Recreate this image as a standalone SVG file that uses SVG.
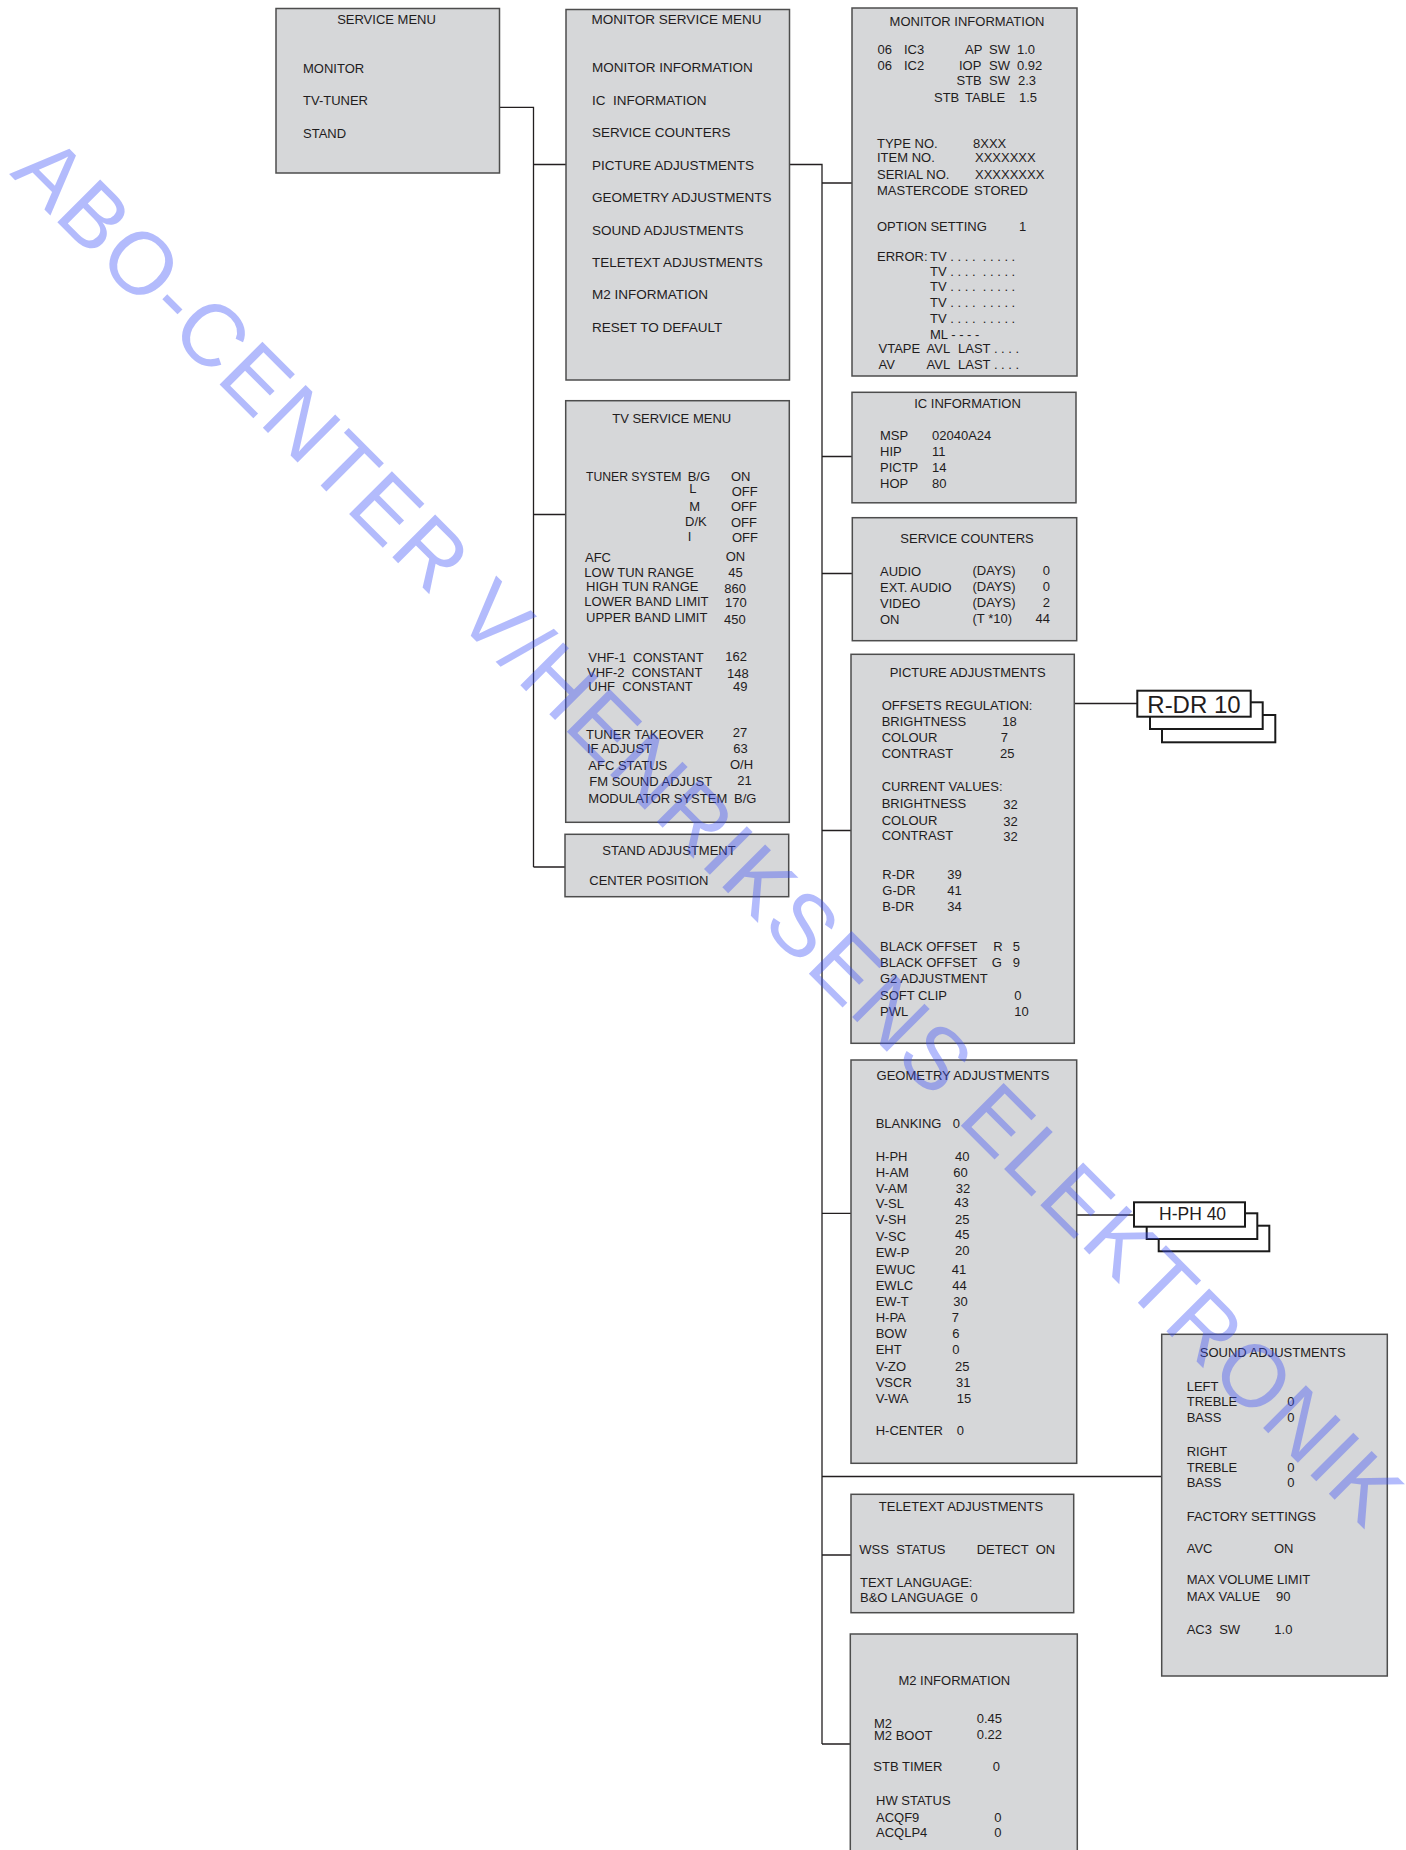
<svg xmlns="http://www.w3.org/2000/svg" width="1406" height="1850" viewBox="0 0 1406 1850">
<style>
.box{fill:#d6d7d9;stroke:#4d4d4d;stroke-width:1.5}
.stk{fill:#ffffff;stroke:#1a1a1a;stroke-width:2}
.ln{fill:none;stroke:#231f20;stroke-width:1.3}
text{font-family:"Liberation Sans",Arial,sans-serif;font-size:13px;fill:#1f1c1d;white-space:pre}
.c{text-anchor:middle}
.e{text-anchor:end}
.m{font-size:13.5px}
.n{font-size:12.2px}
.big{font-size:24px}
.mid{font-size:17.5px}
.wm{font-size:88px;fill:rgb(60,80,247);fill-opacity:0.39}
</style>
<rect width="1406" height="1850" fill="#ffffff"/>

<g id="connectors">
<path class="ln" d="M499.7,107.3 H533.5 V867 M533.5,164.5 H566 M533.5,514.5 H565.7 M533.5,867 H565"/>
<path class="ln" d="M789.3,164.5 H822 V1744 M822,183 H852 M822,456.5 H852 M822,573.5 H852 M822,830.5 H851 M822,1213.3 H851 M822,1476.5 H1161.7 M822,1555 H851 M822,1744 H850.3"/>
<path class="ln" d="M1075,703.5 H1137.5 M1076.7,1215 H1134"/>
</g>

<g id="service-menu">
<rect class="box" x="276" y="8.5" width="223.5" height="164.5"/>
<text class="c" x="386.5" y="23.5">SERVICE MENU</text>
<text x="303" y="72.5">MONITOR</text>
<text x="303" y="104.5">TV-TUNER</text>
<text x="303" y="137.5">STAND</text>
</g>

<g id="monitor-service-menu">
<rect class="box" x="566" y="9.5" width="223.5" height="370.5"/>
<text class="c m" x="676.5" y="24">MONITOR SERVICE MENU</text>
<text class="m" x="592" y="72">MONITOR INFORMATION</text>
<text class="m" x="592" y="105">IC  INFORMATION</text>
<text class="m" x="592" y="137">SERVICE COUNTERS</text>
<text class="m" x="592" y="170">PICTURE ADJUSTMENTS</text>
<text class="m" x="592" y="202">GEOMETRY ADJUSTMENTS</text>
<text class="m" x="592" y="234.5">SOUND ADJUSTMENTS</text>
<text class="m" x="592" y="266.5">TELETEXT ADJUSTMENTS</text>
<text class="m" x="592" y="299">M2 INFORMATION</text>
<text class="m" x="592" y="331.5">RESET TO DEFAULT</text>
</g>

<g id="tv-service-menu">
<rect class="box" x="565.7" y="400.7" width="223.6" height="421.6"/>
<text class="c" x="671.7" y="423.3">TV SERVICE MENU</text>
<text class="n" x="586" y="480.7">TUNER SYSTEM</text>
<text x="687.7" y="480.7">B/G</text>
<text x="731" y="480.7">ON</text>
<text x="689.3" y="492.5">L</text>
<text x="731.7" y="496">OFF</text>
<text x="689.3" y="510.7">M</text>
<text x="731" y="511">OFF</text>
<text x="685" y="526">D/K</text>
<text x="731" y="526.7">OFF</text>
<text x="687.7" y="540.7">I</text>
<text x="732" y="542.3">OFF</text>
<text x="585" y="561.7">AFC</text>
<text x="725.7" y="560.7">ON</text>
<text x="584.3" y="577.3">LOW TUN RANGE</text>
<text x="728.3" y="576.7">45</text>
<text x="586" y="591.3">HIGH TUN RANGE</text>
<text x="724.3" y="593.3">860</text>
<text x="584.3" y="606">LOWER BAND LIMIT</text>
<text x="725" y="607.3">170</text>
<text x="586" y="622.3">UPPER BAND LIMIT</text>
<text x="724" y="624">450</text>
<text x="588.3" y="662.3">VHF-1  CONSTANT</text>
<text x="725.3" y="660.7">162</text>
<text x="587" y="676.7">VHF-2  CONSTANT</text>
<text x="727" y="678">148</text>
<text x="588.3" y="691">UHF  CONSTANT</text>
<text x="733" y="691">49</text>
<text x="586" y="739">TUNER TAKEOVER</text>
<text x="732.7" y="736.7">27</text>
<text x="587" y="753.3">IF ADJUST</text>
<text x="733.3" y="752.7">63</text>
<text x="588.3" y="770">AFC STATUS</text>
<text x="730" y="769">O/H</text>
<text x="589.3" y="785.7">FM SOUND ADJUST</text>
<text x="737.3" y="785">21</text>
<text x="588.3" y="803.3">MODULATOR SYSTEM</text>
<text x="734" y="803.3">B/G</text>
</g>

<g id="stand-adjustment">
<rect class="box" x="565" y="834.3" width="223.7" height="62.4"/>
<text class="c" x="669" y="855">STAND ADJUSTMENT</text>
<text x="589.3" y="885">CENTER POSITION</text>
</g>

<g id="monitor-information">
<rect class="box" x="852" y="8" width="225" height="368"/>
<text class="c" x="967" y="26">MONITOR INFORMATION</text>
<text x="877.5" y="53.5">06</text><text x="904" y="53.5">IC3</text><text x="965" y="53.5">AP</text><text x="989" y="53.5">SW</text><text x="1017" y="53.5">1.0</text>
<text x="877.5" y="69.5">06</text><text x="904" y="69.5">IC2</text><text x="959" y="69.5">IOP</text><text x="989" y="69.5">SW</text><text x="1017" y="69.5">0.92</text>
<text x="956.5" y="85">STB</text><text x="989" y="85">SW</text><text x="1018" y="85">2.3</text>
<text x="934" y="102">STB</text><text x="965" y="102">TABLE</text><text x="1019" y="102">1.5</text>
<text x="877" y="147.5">TYPE NO.</text><text x="973" y="147.5">8XXX</text>
<text x="877" y="162">ITEM NO.</text><text x="975" y="162">XXXXXXX</text>
<text x="877" y="179">SERIAL NO.</text><text x="975" y="179">XXXXXXXX</text>
<text x="877" y="195">MASTERCODE</text><text x="974" y="195">STORED</text>
<text x="877" y="231">OPTION SETTING</text><text x="1019" y="231">1</text>
<text x="877" y="261">ERROR:</text>
<text x="930" y="261">TV . . . .  . . . . .</text>
<text x="930" y="276">TV . . . .  . . . . .</text>
<text x="930" y="291">TV . . . .  . . . . .</text>
<text x="930" y="307">TV . . . .  . . . . .</text>
<text x="930" y="323">TV . . . .  . . . . .</text>
<text x="930" y="339">ML - - - -</text>
<text x="878.5" y="352.5">VTAPE</text><text x="926.5" y="352.5">AVL</text><text x="958" y="352.5">LAST . . . .</text>
<text x="878.5" y="368.5">AV</text><text x="926.5" y="368.5">AVL</text><text x="958" y="368.5">LAST . . . .</text>
</g>

<g id="ic-information">
<rect class="box" x="852" y="392.3" width="224" height="110.5"/>
<text class="c" x="967.5" y="407.5">IC INFORMATION</text>
<text x="880" y="440">MSP</text><text x="932" y="440">02040A24</text>
<text x="880" y="456">HIP</text><text x="932" y="456">11</text>
<text x="880" y="472">PICTP</text><text x="932" y="472">14</text>
<text x="880" y="488">HOP</text><text x="932" y="488">80</text>
</g>

<g id="service-counters">
<rect class="box" x="852.3" y="517.7" width="224.4" height="123"/>
<text class="c" x="967" y="543">SERVICE COUNTERS</text>
<text x="880" y="576">AUDIO</text><text x="972.5" y="575">(DAYS)</text><text class="e" x="1050" y="575">0</text>
<text x="880" y="591.5">EXT. AUDIO</text><text x="972.5" y="590.5">(DAYS)</text><text class="e" x="1050" y="590.5">0</text>
<text x="880" y="608">VIDEO</text><text x="972.5" y="607">(DAYS)</text><text class="e" x="1050" y="607">2</text>
<text x="880" y="624">ON</text><text x="972.5" y="623">(T *10)</text><text class="e" x="1050" y="623">44</text>
</g>

<g id="picture-adjustments">
<rect class="box" x="851" y="654.3" width="223.3" height="389"/>
<text class="c" x="967.7" y="677">PICTURE ADJUSTMENTS</text>
<text x="881.7" y="710">OFFSETS REGULATION:</text>
<text x="881.7" y="726">BRIGHTNESS</text><text x="1002.3" y="726">18</text>
<text x="881.7" y="742">COLOUR</text><text x="1000.7" y="742">7</text>
<text x="881.7" y="758">CONTRAST</text><text x="1000" y="758">25</text>
<text x="881.7" y="791">CURRENT VALUES:</text>
<text x="881.7" y="807.5">BRIGHTNESS</text><text x="1003.3" y="808.5">32</text>
<text x="881.7" y="824.5">COLOUR</text><text x="1003.3" y="825.5">32</text>
<text x="881.7" y="840">CONTRAST</text><text x="1003.3" y="841">32</text>
<text x="882.3" y="879">R-DR</text><text x="947.3" y="879">39</text>
<text x="882.3" y="895">G-DR</text><text x="947.3" y="895">41</text>
<text x="882.3" y="911">B-DR</text><text x="947.3" y="911">34</text>
<text x="880" y="951">BLACK OFFSET</text><text x="993.3" y="951">R</text><text x="1012.7" y="951">5</text>
<text x="880" y="967">BLACK OFFSET</text><text x="991.7" y="967">G</text><text x="1012.7" y="967">9</text>
<text x="880" y="983">G2 ADJUSTMENT</text>
<text x="880" y="1000">SOFT CLIP</text><text x="1014.3" y="1000">0</text>
<text x="880" y="1016">PWL</text><text x="1014.3" y="1016">10</text>
</g>

<g id="rdr10-stack">
<rect class="stk" x="1162" y="715" width="113.3" height="27.3"/>
<rect class="stk" x="1150" y="702.3" width="112.7" height="26.7"/>
<rect class="stk" x="1137.3" y="690.7" width="113.4" height="26"/>
<text class="big" x="1147.3" y="712.7">R-DR 10</text>
</g>

<g id="geometry-adjustments">
<rect class="box" x="851" y="1060" width="225.7" height="403.3"/>
<text class="c" x="963" y="1080">GEOMETRY ADJUSTMENTS</text>
<text x="875.7" y="1128">BLANKING</text><text x="952.7" y="1128">0</text>
<text x="875.7" y="1161">H-PH</text><text x="955" y="1161">40</text>
<text x="875.7" y="1176.7">H-AM</text><text x="953.3" y="1176.7">60</text>
<text x="875.7" y="1192.7">V-AM</text><text x="955.7" y="1192.7">32</text>
<text x="875.7" y="1208.3">V-SL</text><text x="954.3" y="1206.7">43</text>
<text x="875.7" y="1224.3">V-SH</text><text x="955" y="1224.3">25</text>
<text x="875.7" y="1240.7">V-SC</text><text x="955" y="1239">45</text>
<text x="875.7" y="1257.3">EW-P</text><text x="955" y="1255">20</text>
<text x="875.7" y="1274">EWUC</text><text x="951.7" y="1274">41</text>
<text x="875.7" y="1290">EWLC</text><text x="952.3" y="1290">44</text>
<text x="875.7" y="1306">EW-T</text><text x="953.3" y="1306">30</text>
<text x="875.7" y="1321.7">H-PA</text><text x="951.7" y="1321.7">7</text>
<text x="875.7" y="1337.7">BOW</text><text x="952.3" y="1337.7">6</text>
<text x="875.7" y="1354.3">EHT</text><text x="952.3" y="1354.3">0</text>
<text x="875.7" y="1370.7">V-ZO</text><text x="955" y="1370.7">25</text>
<text x="875.7" y="1386.7">VSCR</text><text x="956" y="1386.7">31</text>
<text x="875.7" y="1402.7">V-WA</text><text x="956.7" y="1402.7">15</text>
<text x="875.7" y="1435">H-CENTER</text><text x="956.7" y="1435">0</text>
</g>

<g id="hph40-stack">
<rect class="stk" x="1158.7" y="1225.7" width="110.6" height="25.6"/>
<rect class="stk" x="1146.7" y="1213.3" width="110.6" height="25.7"/>
<rect class="stk" x="1134" y="1202.3" width="111" height="24.4"/>
<text class="mid" x="1159" y="1220">H-PH 40</text>
</g>

<g id="sound-adjustments">
<rect class="box" x="1161.7" y="1334.3" width="225.6" height="341.7"/>
<text class="c" x="1272.7" y="1357.3">SOUND ADJUSTMENTS</text>
<text x="1186.7" y="1390.7">LEFT</text>
<text x="1186.7" y="1406">TREBLE</text><text x="1287.3" y="1406">0</text>
<text x="1186.7" y="1422.3">BASS</text><text x="1287.3" y="1422.3">0</text>
<text x="1186.7" y="1455.7">RIGHT</text>
<text x="1186.7" y="1471.7">TREBLE</text><text x="1287.3" y="1471.7">0</text>
<text x="1186.7" y="1487.3">BASS</text><text x="1287.3" y="1487.3">0</text>
<text x="1186.7" y="1520.7">FACTORY SETTINGS</text>
<text x="1186.7" y="1552.7">AVC</text><text x="1274" y="1552.7">ON</text>
<text x="1186.7" y="1584.3">MAX VOLUME LIMIT</text>
<text x="1186.7" y="1601">MAX VALUE</text><text x="1276" y="1601">90</text>
<text x="1186.7" y="1634">AC3  SW</text><text x="1274.3" y="1634">1.0</text>
</g>

<g id="teletext-adjustments">
<rect class="box" x="851" y="1494.3" width="222.7" height="118.4"/>
<text class="c" x="961" y="1510.7">TELETEXT ADJUSTMENTS</text>
<text x="859.3" y="1554.3">WSS  STATUS</text><text x="976.7" y="1554.3">DETECT  ON</text>
<text x="860" y="1586.7">TEXT LANGUAGE:</text>
<text x="860" y="1601.7">B&amp;O LANGUAGE  0</text>
</g>

<g id="m2-information">
<rect class="box" x="850.3" y="1634" width="227" height="230"/>
<text class="c" x="954.3" y="1685">M2 INFORMATION</text>
<text x="874" y="1727.7">M2</text><text x="976.7" y="1723.3">0.45</text>
<text x="874" y="1740">M2 BOOT</text><text x="976.7" y="1738.5">0.22</text>
<text x="873.3" y="1771">STB TIMER</text><text x="992.7" y="1771">0</text>
<text x="876" y="1805">HW STATUS</text>
<text x="876" y="1821.7">ACQF9</text><text x="994.3" y="1821.7">0</text>
<text x="876" y="1836.7">ACQLP4</text><text x="994.3" y="1836.7">0</text>
</g>

<g id="watermark">
<text class="wm" x="9" y="174" transform="rotate(45 9 174)" textLength="1918" lengthAdjust="spacing">ABO-CENTER V/HENRIKSENS ELEKTRONIK</text>
</g>
</svg>
